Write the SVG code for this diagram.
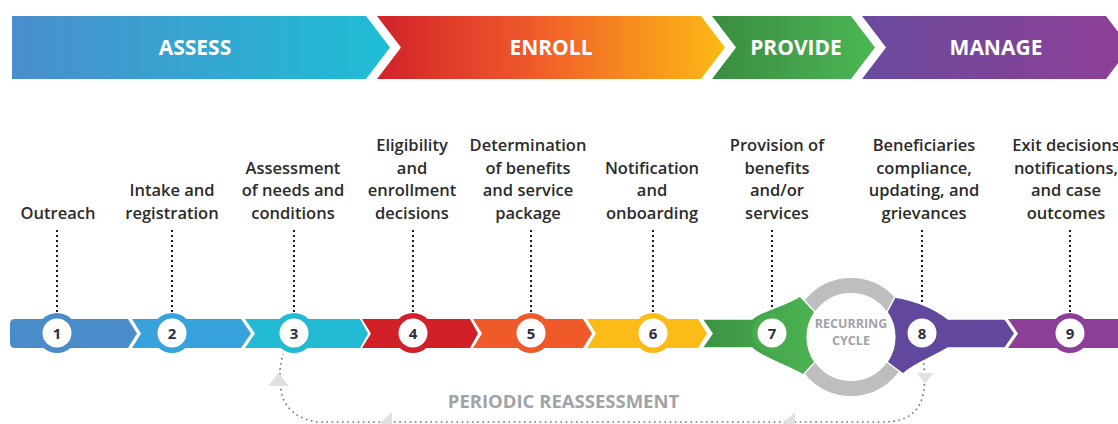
<svg xmlns="http://www.w3.org/2000/svg" width="1118" height="424" viewBox="0 0 1118 424">
<defs>
<linearGradient id="gAssess" x1="12" y1="0" x2="390" y2="0" gradientUnits="userSpaceOnUse"><stop offset="0" stop-color="#4a8ecc"/><stop offset="1" stop-color="#1fbdd6"/></linearGradient>
<linearGradient id="gEnroll" x1="377" y1="0" x2="725" y2="0" gradientUnits="userSpaceOnUse"><stop offset="0" stop-color="#d1222a"/><stop offset="0.45" stop-color="#f05a2a"/><stop offset="1" stop-color="#fdbb14"/></linearGradient>
<linearGradient id="gProvide" x1="712" y1="0" x2="875" y2="0" gradientUnits="userSpaceOnUse"><stop offset="0" stop-color="#3a8c40"/><stop offset="1" stop-color="#4cb755"/></linearGradient>
<linearGradient id="gManage" x1="862" y1="0" x2="1118" y2="0" gradientUnits="userSpaceOnUse"><stop offset="0" stop-color="#6a4b9e"/><stop offset="1" stop-color="#8c3f96"/></linearGradient>
<linearGradient id="gGreen" x1="702" y1="0" x2="810" y2="0" gradientUnits="userSpaceOnUse"><stop offset="0" stop-color="#3a9142"/><stop offset="1" stop-color="#4cb251"/></linearGradient>
<style>
.phase{font-family:"Open Sans","Liberation Sans",sans-serif;font-weight:700;font-size:21px;fill:#ffffff;text-anchor:middle}
.lbl{font-family:"Open Sans","Liberation Sans",sans-serif;font-weight:600;font-size:16.5px;fill:#2b2b2b;text-anchor:middle}
.num{font-family:"Open Sans","Liberation Sans",sans-serif;font-weight:700;font-size:15px;fill:#2e2e3e;text-anchor:middle}
.inner{fill:#ffffff}
.dots{fill:none;stroke:#1a1a1a;stroke-width:2;stroke-dasharray:2 3}
.gdots{fill:none;stroke:#6d6f71;stroke-width:1.6;stroke-dasharray:1.6 3.6}
.garrow{fill:#dfe1e2}
.gray{font-family:"Open Sans","Liberation Sans",sans-serif;font-weight:700;fill:#a0a3a7;text-anchor:middle}
</style>
</defs>
<rect width="1118" height="424" fill="#ffffff"/>

<g id="phase-assess"><path d="M12,16 L366,16 L390,47.5 L366,79 L12,79 Z" fill="url(#gAssess)"/><text class="phase" x="195" y="55">ASSESS</text></g>
<g id="phase-enroll"><path d="M377,16 L701,16 L725,47.5 L701,79 L377,79 L401,47.5 Z" fill="url(#gEnroll)"/><text class="phase" x="551" y="55">ENROLL</text></g>
<g id="phase-provide"><path d="M712,16 L851,16 L875,47.5 L851,79 L712,79 L736,47.5 Z" fill="url(#gProvide)"/><text class="phase" x="796" y="55">PROVIDE</text></g>
<g id="phase-manage"><path d="M862,16 L1106,16 L1130,47.5 L1106,79 L862,79 L886,47.5 Z" fill="url(#gManage)"/><text class="phase" x="996" y="55">MANAGE</text></g>

<g id="recurring-cycle">
<circle cx="851" cy="337" r="51.5" fill="none" stroke="#bcbec0" stroke-width="15"/>
<circle cx="851" cy="337" r="44" fill="#ffffff"/>
<text class="gray" font-size="12.5" x="851" y="328">RECURRING</text>
<text class="gray" font-size="12.5" x="851" y="345">CYCLE</text>
</g>

<g id="connectors">
<path class="dots" d="M57,230 V316"/>
<path class="dots" d="M172,230 V316"/>
<path class="dots" d="M294,230 V316"/>
<path class="dots" d="M413,230 V316"/>
<path class="dots" d="M531,230 V316"/>
<path class="dots" d="M653,230 V316"/>
<path class="dots" d="M772,230 V316"/>
<path class="dots" d="M922,230 V316"/>
<path class="dots" d="M1070,230 V316"/>
<path class="gdots" d="M922,353 C926,372 927,400 914,412 C905,420 896,422 880,422 L318,422 C300,420 286,410 282,395 C279,382 279,368 283,354"/>
<path class="garrow" d="M917,373 L933,373 L925,384 Z"/>
<path class="garrow" d="M268,386 L289,386 L278.5,373 Z"/>
<path class="garrow" d="M380,423 L392,412 L392,434 Z"/>
<path class="garrow" d="M783,423 L795,412 L795,434 Z"/>
<text class="gray" font-size="18.5" x="563.5" y="408">PERIODIC REASSESSMENT</text>
</g>

<g id="step1">
<path d="M15,319 L128,319 L137,333.5 L128,348 L15,348 Q10,348 10,343 L10,324 Q10,319 15,319 Z" fill="#4a8bc9"/>
<circle cx="57" cy="333" r="20" fill="#4a8bc9"/><circle class="inner" cx="57" cy="333" r="14.5"/>
<text class="num" x="57" y="338.5">1</text>
<text class="lbl" x="58" y="218.5">Outreach</text>
</g>
<g id="step2">
<path d="M132,319 L241,319 L251,333.5 L241,348 L132,348 L141,333.5 Z" fill="#38a2dc"/>
<circle cx="172" cy="333" r="20" fill="#38a2dc"/><circle class="inner" cx="172" cy="333" r="14.5"/>
<text class="num" x="172" y="338.5">2</text>
<text class="lbl" x="172" y="196">Intake and</text><text class="lbl" x="172" y="218.5">registration</text>
</g>
<g id="step3">
<path d="M245,319 L360,319 L368,333.5 L360,348 L245,348 L255,333.5 Z" fill="#22bbd3"/>
<circle cx="294" cy="333" r="20" fill="#22bbd3"/><circle class="inner" cx="294" cy="333" r="14.5"/>
<text class="num" x="294" y="338.5">3</text>
<text class="lbl" x="293" y="173.5">Assessment</text><text class="lbl" x="293" y="196">of needs and</text><text class="lbl" x="293" y="218.5">conditions</text>
</g>
<g id="step4">
<path d="M362,319 L470,319 L478,333.5 L470,348 L362,348 L371,333.5 Z" fill="#d12028"/>
<circle cx="413" cy="333" r="20" fill="#d12028"/><circle class="inner" cx="413" cy="333" r="14.5"/>
<text class="num" x="413" y="338.5">4</text>
<text class="lbl" x="412" y="151">Eligibility</text><text class="lbl" x="412" y="173.5">and</text><text class="lbl" x="412" y="196">enrollment</text><text class="lbl" x="412" y="218.5">decisions</text>
</g>
<g id="step5">
<path d="M473,319 L583,319 L592,333.5 L583,348 L473,348 L482,333.5 Z" fill="#f05a2b"/>
<circle cx="531" cy="333" r="20" fill="#f05a2b"/><circle class="inner" cx="531" cy="333" r="14.5"/>
<text class="num" x="531" y="338.5">5</text>
<text class="lbl" x="528" y="151">Determination</text><text class="lbl" x="528" y="173.5">of benefits</text><text class="lbl" x="528" y="196">and service</text><text class="lbl" x="528" y="218.5">package</text>
</g>
<g id="step6">
<path d="M587,319 L698,319 L707,333.5 L698,348 L587,348 L596,333.5 Z" fill="#fcbb16"/>
<circle cx="653" cy="333" r="20" fill="#fcbb16"/><circle class="inner" cx="653" cy="333" r="14.5"/>
<text class="num" x="653" y="338.5">6</text>
<text class="lbl" x="652" y="173.5">Notification</text><text class="lbl" x="652" y="196">and</text><text class="lbl" x="652" y="218.5">onboarding</text>
</g>
<g id="step7">
<path d="M702,319 L752,319 C762,310 782,307 800,296 L815,312 A44,44 0 0 0 815,362 L803,375 C784,364 762,358 752,348 L702,348 L712,333.5 Z" fill="url(#gGreen)" stroke="#ffffff" stroke-width="1.5" stroke-linejoin="round"/>
<circle cx="772" cy="333" r="20" fill="#48ab4e"/><circle class="inner" cx="772" cy="333" r="14.5"/>
<text class="num" x="772" y="338.5">7</text>
<text class="lbl" x="777" y="151">Provision of</text><text class="lbl" x="777" y="173.5">benefits</text><text class="lbl" x="777" y="196">and/or</text><text class="lbl" x="777" y="218.5">services</text>
</g>
<g id="step8">
<path d="M895,297 C912,300 932,306 948,319 L1005,319 L1015,333.5 L1005,348 L948,348 C932,358 915,363 903,374 L887,362 A44,44 0 0 0 887,312 Z" fill="#61489c" stroke="#ffffff" stroke-width="1.5" stroke-linejoin="round"/>
<circle cx="922" cy="333" r="20" fill="#61489c"/><circle class="inner" cx="922" cy="333" r="14.5"/>
<text class="num" x="922" y="338.5">8</text>
<text class="lbl" x="924" y="151">Beneficiaries</text><text class="lbl" x="924" y="173.5">compliance,</text><text class="lbl" x="924" y="196">updating, and</text><text class="lbl" x="924" y="218.5">grievances</text>
</g>
<g id="step9">
<path d="M1008,319 L1118,319 L1118,348 L1008,348 L1018,333.5 Z" fill="#8b3f97"/>
<circle cx="1070" cy="333" r="20" fill="#8b3f97"/><circle class="inner" cx="1070" cy="333" r="14.5"/>
<text class="num" x="1070" y="338.5">9</text>
<text class="lbl" x="1066" y="151">Exit decisions</text><text class="lbl" x="1066" y="173.5">notifications,</text><text class="lbl" x="1066" y="196">and case</text><text class="lbl" x="1066" y="218.5">outcomes</text>
</g>
</svg>
